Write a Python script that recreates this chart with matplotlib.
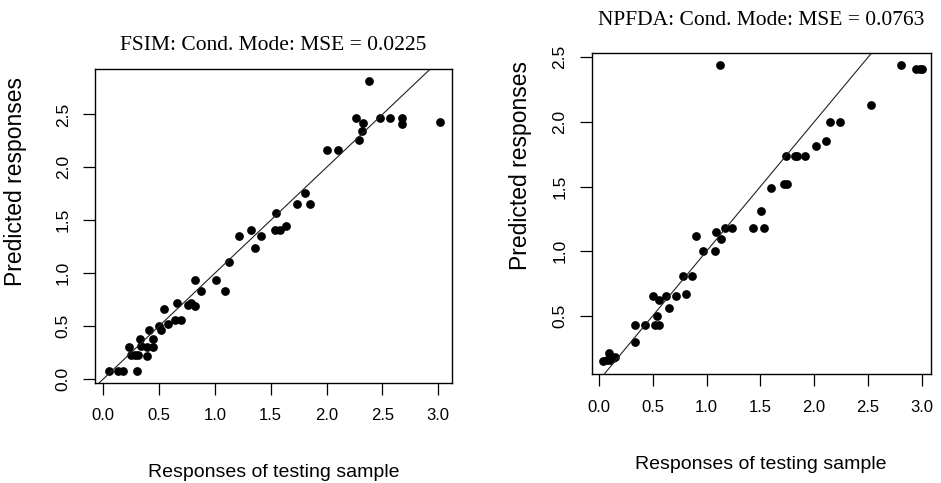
import matplotlib
matplotlib.use("Agg")
import matplotlib.pyplot as plt

# FSIM panel: responses of testing sample vs predicted
fsim_obs = [0.05, 0.13, 0.18, 0.23, 0.25, 0.28, 0.30, 0.31, 0.33, 0.34,
            0.39, 0.39, 0.41, 0.45, 0.45, 0.50, 0.52, 0.54, 0.58, 0.64,
            0.66, 0.70, 0.76, 0.79, 0.82, 0.82, 0.88, 1.01, 1.09, 1.13,
            1.22, 1.32, 1.36, 1.41, 1.54, 1.55, 1.58, 1.64, 1.74, 1.81,
            1.85, 2.00, 2.10, 2.26, 2.29, 2.32, 2.33, 2.38, 2.48, 2.57,
            2.68, 2.68, 3.02]
fsim_pred = [0.08, 0.08, 0.08, 0.30, 0.23, 0.23, 0.08, 0.23, 0.38, 0.31,
             0.22, 0.30, 0.46, 0.38, 0.30, 0.50, 0.46, 0.66, 0.52, 0.56,
             0.72, 0.56, 0.70, 0.72, 0.69, 0.94, 0.83, 0.94, 0.83, 1.11,
             1.35, 1.41, 1.24, 1.35, 1.41, 1.57, 1.41, 1.45, 1.65, 1.76,
             1.65, 2.16, 2.16, 2.47, 2.26, 2.34, 2.42, 2.82, 2.47, 2.47,
             2.47, 2.41, 2.43]

# NPFDA panel
npfda_obs = [0.04, 0.07, 0.09, 0.10, 0.13, 0.15, 0.33, 0.33, 0.43, 0.50,
             0.52, 0.54, 0.56, 0.56, 0.62, 0.65, 0.72, 0.78, 0.81, 0.86,
             0.90, 0.97, 1.08, 1.09, 1.12, 1.13, 1.17, 1.24, 1.43, 1.51,
             1.53, 1.60, 1.72, 1.74, 1.75, 1.82, 1.84, 1.91, 2.02, 2.11,
             2.15, 2.24, 2.53, 2.81, 2.95, 2.98, 3.00]
npfda_pred = [0.15, 0.16, 0.21, 0.16, 0.17, 0.18, 0.30, 0.43, 0.43, 0.65,
              0.43, 0.50, 0.62, 0.43, 0.65, 0.56, 0.65, 0.81, 0.67, 0.81,
              1.12, 1.00, 1.00, 1.15, 2.44, 1.09, 1.18, 1.18, 1.18, 1.31,
              1.18, 1.49, 1.52, 1.74, 1.52, 1.74, 1.74, 1.74, 1.81, 1.85,
              2.00, 2.00, 2.13, 2.44, 2.41, 2.41, 2.41]

ticks = [0.0, 0.5, 1.0, 1.5, 2.0, 2.5, 3.0]
tick_labels = ["0.0", "0.5", "1.0", "1.5", "2.0", "2.5", "3.0"]
titles = ["FSIM: Cond. Mode: MSE = 0.0225", "NPFDA: Cond. Mode: MSE = 0.0763"]
xlab = "Responses of testing sample"
ylab = "Predicted responses"

W, H = 941, 483
sans = "Liberation Sans"
serif = "Liberation Serif"

fig = plt.figure(figsize=(W / 100, H / 100), dpi=100)
fig.patch.set_facecolor("white")


def px(x, y):
    return x / W, 1 - y / H


def panel(rect, obs, pred, xlim, ylim, yticks):
    ax = fig.add_axes(rect)
    ax.plot(obs, pred, "o", color="black", ms=6.3, mew=0)
    ax.axline((0, 0), slope=1, color="#222222", lw=0.8)
    ax.set_xlim(xlim)
    ax.set_ylim(ylim)
    ax.set_xticks(ticks)
    ax.set_xticklabels(tick_labels, fontfamily=sans, fontsize=12)
    ax.set_yticks(yticks)
    ax.set_yticklabels(["%.1f" % v for v in yticks], fontfamily=sans,
                       fontsize=12.5, rotation=90, va="center")
    ax.tick_params(axis="x", length=8.5, width=0.9, pad=10, direction="out")
    ax.tick_params(axis="y", length=8.5, width=0.9, pad=9, direction="out")
    for s in ax.spines.values():
        s.set_linewidth(1.0)
        s.set_color("black")
    return ax


ax1 = panel([95 / W, 1 - 382.7 / H, 357.3 / W, 313.4 / H],
            fsim_obs, fsim_pred, (-0.074, 3.127), (-0.035, 2.927),
            [0.0, 0.5, 1.0, 1.5, 2.0, 2.5])
ax2 = panel([591.7 / W, 1 - 374 / H, 339 / W, 320.7 / H],
            npfda_obs, npfda_pred, (-0.068, 3.083), (0.049, 2.531),
            [0.5, 1.0, 1.5, 2.0, 2.5])

# titles
fig.text(*px(273, 50), titles[0], ha="center", va="baseline",
         fontfamily=serif, fontsize=15.5)
fig.text(*px(761.5, 25), titles[1], ha="center", va="baseline",
         fontfamily=serif, fontsize=15.5)

# axis labels
fig.text(*px(273.5, 477), xlab, ha="center", va="baseline",
         fontfamily=sans, fontsize=14)
fig.text(*px(761, 469), xlab, ha="center", va="baseline",
         fontfamily=sans, fontsize=14)
fig.text(*px(15.5, 182), ylab, ha="center", va="center", rotation=90,
         fontfamily=sans, fontsize=16.5)
fig.text(*px(520, 166), ylab, ha="center", va="center", rotation=90,
         fontfamily=sans, fontsize=16.5)

plt.savefig("out.png", dpi=100)
